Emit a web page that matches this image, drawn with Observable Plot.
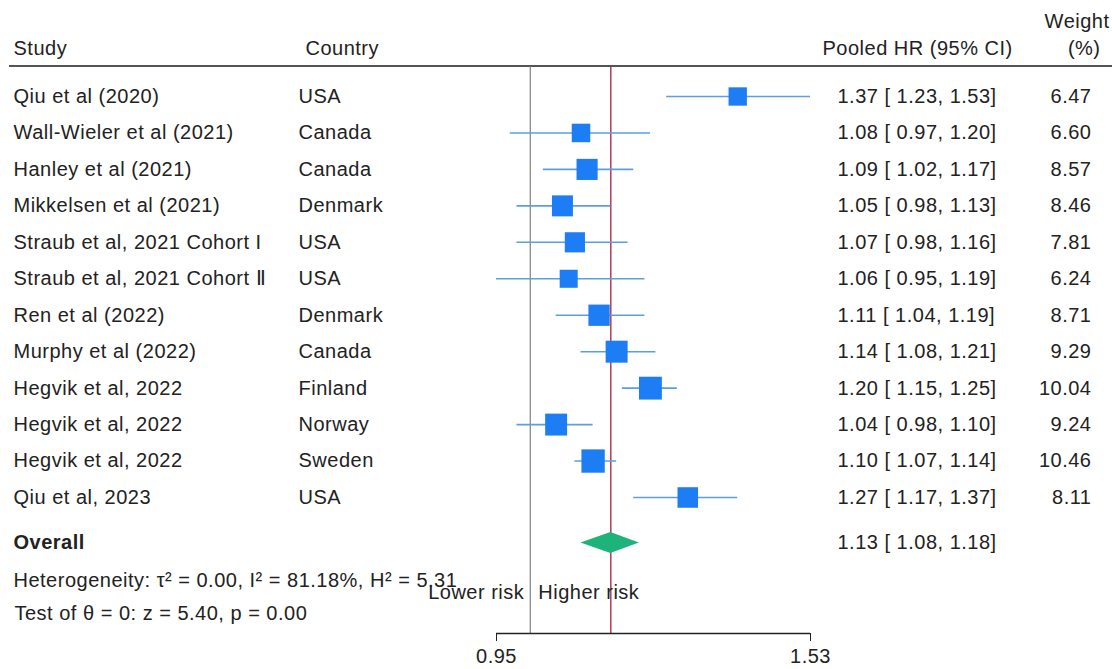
<!DOCTYPE html>
<html>
<head>
<meta charset="utf-8">
<script src="https://cdn.jsdelivr.net/npm/d3@7"></script>
<script src="https://cdn.jsdelivr.net/npm/@observablehq/plot@0.6"></script>
<style>
  body { margin: 0; background: #fff; }
  #chart svg { display: block; }
  g[aria-label="stats-het"] text { letter-spacing: -2px; }
  g[aria-label="stats-test"] text { letter-spacing: -1.7px; }
</style>
</head>
<body>
<div id="chart"></div>
<script>
// ---- data ----
const studies = ["Qiu et al (2020)", "Wall-Wieler et al (2021)", "Hanley et al (2021)", "Mikkelsen et al (2021)",
  "Straub et al, 2021 Cohort I", "Straub et al, 2021 Cohort Ⅱ", "Ren et al (2022)", "Murphy et al (2022)",
  "Hegvik et al, 2022", "Hegvik et al, 2022", "Hegvik et al, 2022", "Qiu et al, 2023"];
const countries = ["USA", "Canada", "Canada", "Denmark", "USA", "USA", "Denmark", "Canada", "Finland", "Norway", "Sweden", "USA"];
const hr = [1.37, 1.08, 1.09, 1.05, 1.07, 1.06, 1.11, 1.14, 1.20, 1.04, 1.10, 1.27];
const lo = [1.23, 0.97, 1.02, 0.98, 0.98, 0.95, 1.04, 1.08, 1.15, 0.98, 1.07, 1.17];
const hi = [1.53, 1.20, 1.17, 1.13, 1.16, 1.19, 1.19, 1.21, 1.25, 1.10, 1.14, 1.37];
const weights = [6.47, 6.60, 8.57, 8.46, 7.81, 6.24, 8.71, 9.29, 10.04, 9.24, 10.46, 8.11];
const overallHR = 1.13, overallLo = 1.08, overallHi = 1.18;
const hetText = "Heterogeneity: τ² = 0.00, I² = 81.18%, H² = 5.31";
const testText = "Test of θ = 0: z = 5.40, p = 0.00";
const xTicks = [0.95, 1.53];
const nullValue = 1;

// ---- layout constants (row units) ----
const ROW_HEADER = -0.317, ROW_WEIGHT = -1.057, ROW_RULE = 0.163;
const ROW_OVERALL = 13.248, ROW_HET = 14.277, ROW_RISK = 14.606, ROW_TEST = 15.182, ROW_AXIS = 15.731;

const f2 = d => d.toFixed(2);
const rows = studies.map((s, i) => ({
  row: i + 1, study: s, country: countries[i], hr: hr[i], lo: lo[i], hi: hi[i], weight: weights[i],
  label: `${f2(hr[i])} [ ${f2(lo[i])}, ${f2(hi[i])}]`, wlabel: f2(weights[i])
}));
const diamond = [
  {x: overallLo, y1: ROW_OVERALL, y2: ROW_OVERALL},
  {x: overallHR, y1: ROW_OVERALL - 0.29, y2: ROW_OVERALL + 0.29},
  {x: overallHi, y1: ROW_OVERALL, y2: ROW_OVERALL}
];

const fs = 20;
const chart = Plot.plot({
  width: 1112, height: 669,
  marginLeft: 496, marginRight: 302, marginTop: 0, marginBottom: 36,
  style: {fontFamily: "'Liberation Sans', Arial, sans-serif", fontSize: "20px", letterSpacing: "0.5px", background: "#fff", color: "#222", overflow: "visible"},
  x: {type: "log", domain: [0.95, 1.53]},
  y: {domain: [1, 12], range: [96, 497], axis: null},
  r: {type: "sqrt", domain: [0, 12], range: [0, 14.1]},
  marks: [
    // header rule
    Plot.ruleY([ROW_RULE], {stroke: "#555", strokeWidth: 2, insetLeft: -487, insetRight: -302}),
    // headers
    Plot.text(["Study"], {y: ROW_HEADER, text: d => d, frameAnchor: "left", dx: -483, textAnchor: "start", fontSize: fs}),
    Plot.text(["Country"], {y: ROW_HEADER, text: d => d, frameAnchor: "left", dx: -191, textAnchor: "start", fontSize: fs}),
    Plot.text(["Pooled HR (95% CI)"], {y: ROW_HEADER, text: d => d, frameAnchor: "right", dx: 12, textAnchor: "start", fontSize: fs}),
    Plot.text(["Weight"], {y: ROW_WEIGHT, text: d => d, frameAnchor: "right", dx: 299, textAnchor: "end", fontSize: fs}),
    Plot.text(["(%)"], {y: ROW_HEADER, text: d => d, frameAnchor: "right", dx: 290, textAnchor: "end", fontSize: fs}),
    // reference lines
    Plot.ruleX([nullValue], {y1: ROW_RULE + 0.03, y2: ROW_AXIS, stroke: "#8a8a8a", strokeWidth: 1.3}),
    Plot.ruleX([overallHR], {y1: ROW_RULE + 0.03, y2: ROW_AXIS, stroke: "#a61f3c", strokeWidth: 1.3}),
    // CIs and squares
    Plot.ruleY(rows, {y: "row", x1: "lo", x2: "hi", stroke: "#5e9ee0", strokeWidth: 1.6}),
    Plot.dot(rows, {x: "hr", y: "row", r: "weight", symbol: "square", fill: "#1c7df5"}),
    // overall diamond
    Plot.areaY(diamond, {x: "x", y1: "y1", y2: "y2", fill: "#1db37b", curve: "linear"}),
    // left columns
    Plot.text(rows, {y: "row", text: "study", frameAnchor: "left", dx: -483, textAnchor: "start", fontSize: fs}),
    Plot.text(rows, {y: "row", text: "country", frameAnchor: "left", dx: -198, textAnchor: "start", fontSize: fs}),
    // right columns
    Plot.text(rows, {y: "row", text: "label", frameAnchor: "right", dx: 27, textAnchor: "start", fontSize: fs}),
    Plot.text(rows, {y: "row", text: "wlabel", frameAnchor: "right", dx: 281, textAnchor: "end", fontSize: fs}),
    // overall
    Plot.text(["Overall"], {y: ROW_OVERALL, text: d => d, frameAnchor: "left", dx: -483, textAnchor: "start", fontSize: fs, fontWeight: "bold"}),
    Plot.text([`${f2(overallHR)} [ ${f2(overallLo)}, ${f2(overallHi)}]`], {y: ROW_OVERALL, text: d => d, frameAnchor: "right", dx: 27, textAnchor: "start", fontSize: fs}),
    // stats
    Plot.text([hetText], {y: ROW_HET, text: d => d, frameAnchor: "left", dx: -483, textAnchor: "start", fontSize: fs, ariaLabel: "stats-het"}),
    Plot.text([testText], {y: ROW_TEST, text: d => d, frameAnchor: "left", dx: -482, textAnchor: "start", fontSize: fs, ariaLabel: "stats-test"}),
    // direction labels
    Plot.text(["Lower risk"], {x: nullValue, y: ROW_RISK, text: d => d, dx: -6, textAnchor: "end", fontSize: fs}),
    Plot.text(["Higher risk"], {x: nullValue, y: ROW_RISK, text: d => d, dx: 8, textAnchor: "start", fontSize: fs}),
    // x axis
    Plot.ruleY([ROW_AXIS], {stroke: "#222", strokeWidth: 1.5}),
    Plot.axisX({ticks: xTicks, tickFormat: f2, tickSize: 8, tickPadding: 7, fontSize: fs, label: null, stroke: "#222"})
  ]
});
document.getElementById("chart").appendChild(chart);
</script>
</body>
</html>
